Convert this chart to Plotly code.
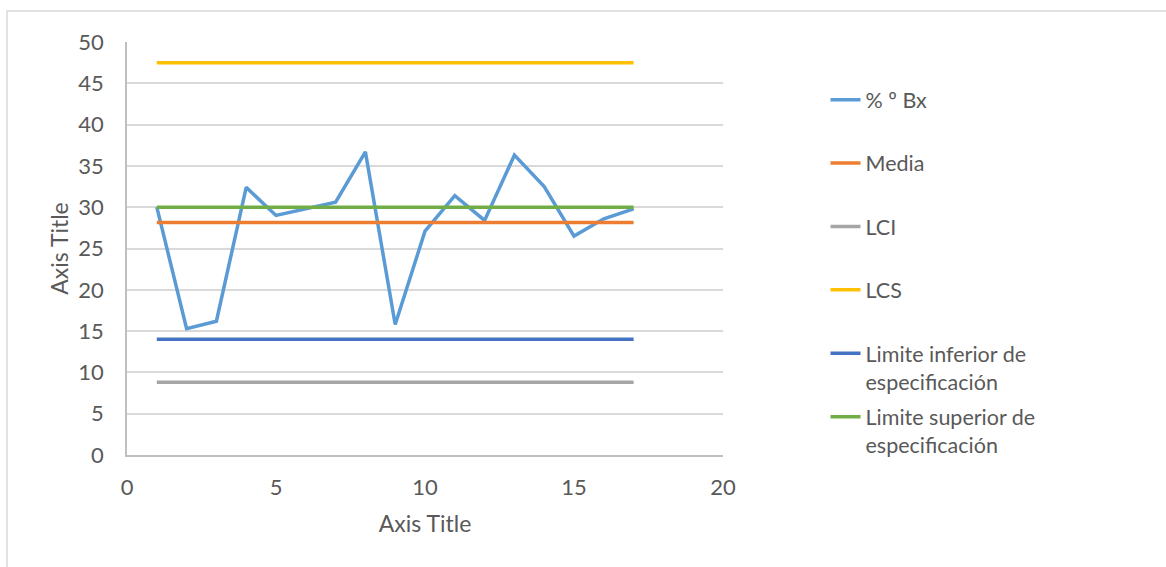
import plotly.graph_objects as go

x_vals = list(range(1, 18))
bx = [30.0, 15.3, 16.2, 32.4, 29.0, 29.8, 30.6, 36.7, 15.8, 27.1, 31.4, 28.4, 36.3, 32.5, 26.5, 28.6, 29.8]
media = 28.15
lci = 8.8
lcs = 47.5
lie = 14.0
lse = 30.0

names = ["% º Bx", "Media", "LCI", "LCS",
         "Limite inferior de<br>especificación", "Limite superior de<br>especificación"]
colors = ["#5B9BD5", "#ED7D31", "#A5A5A5", "#FFC000", "#4472C4", "#70AD47"]
series = [bx, [media]*17, [lci]*17, [lcs]*17, [lie]*17, [lse]*17]

FONT = "Lato"
fig = go.Figure()
for i, (n, c, s) in enumerate(zip(names, colors, series)):
    label = n if "<br>" in n else n + "<br> "
    fig.add_trace(go.Scatter(x=x_vals, y=s, mode="lines", name=label,
                             line=dict(color=c, width=3.5), legendgroup=f"g{i}"))

fig.update_layout(
    width=1166, height=567,
    margin=dict(l=127, r=443, t=42, b=112),
    paper_bgcolor="white", plot_bgcolor="white",
    font=dict(family=FONT, size=22, color="#595959"),
    legend=dict(x=1.172, y=0.91, xanchor="left", yanchor="top",
                tracegroupgap=4.5, valign="top",
                font=dict(family=FONT, size=21.5, color="#595959")),
    xaxis=dict(range=[0, 20], dtick=5, showgrid=False, zeroline=False,
               showline=True, linecolor="#bfbfbf", linewidth=1.5,
               ticklabelstandoff=12,
               title=dict(text="Axis Title", standoff=17, font=dict(size=23))),
    yaxis=dict(range=[0, 50], dtick=5, showgrid=True, gridcolor="#d9d9d9", gridwidth=1.5,
               zeroline=False, showline=True, linecolor="#bfbfbf", linewidth=1.5,
               ticklabelstandoff=17,
               title=dict(text="Axis Title", standoff=3, font=dict(size=23))),
    shapes=[dict(type="rect", xref="paper", yref="paper",
                 x0=-0.2013, x1=1.8, y0=-0.5, y1=1.0751,
                 line=dict(color="#d9d9d9", width=1.5), layer="below")],
)
fig.write_html("out.html", config={"displayModeBar": False},
               post_script="document.body.style.margin='0';")
